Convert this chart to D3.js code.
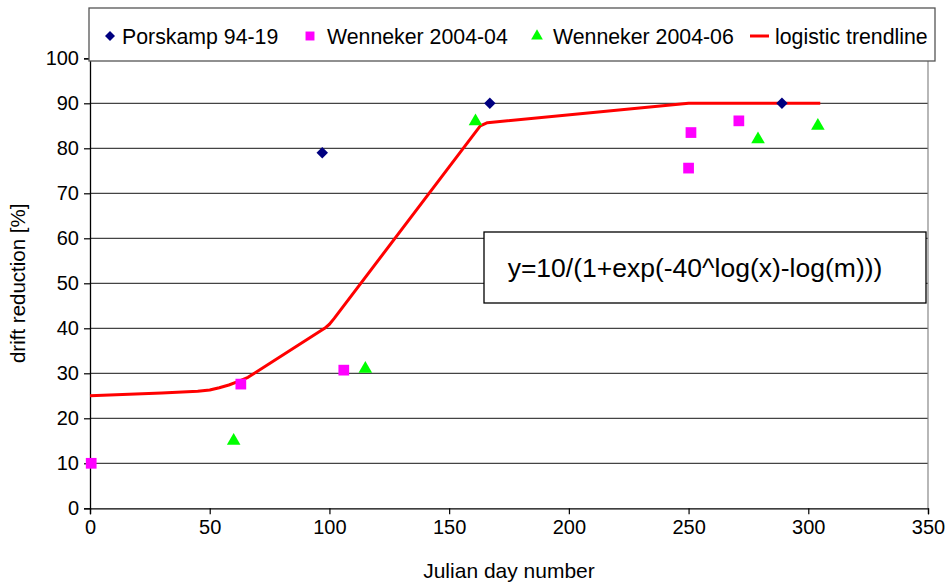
<!DOCTYPE html>
<html><head><meta charset="utf-8">
<script src="https://cdn.jsdelivr.net/npm/d3@7"></script>
<style>body{margin:0;background:#fff}text{font-family:"Liberation Sans",Arial,sans-serif;fill:#000}</style>
</head><body><svg id="c" width="948" height="582"></svg>
<script>
const xTicks = [0,50,100,150,200,250,300,350];
const yTicks = [0,10,20,30,40,50,60,70,80,90,100];
const porskampX = [97,167,289];
const porskampY = [79,90,90];
const wenn04X = [0.5,63,106,250,251,271];
const wenn04Y = [10,27.6,30.7,75.6,83.5,86.1];
const wenn06X = [60,115,161,279,304];
const wenn06Y = [15,31,86,82,85];
const trendX = [0,30,45,50,54,58,62,66,98,100,102,163,166,250,305];
const trendY = [25,25.6,26,26.3,26.8,27.4,28.2,29.1,40,40.9,42.2,85,85.7,90,90];
const legendLabels = ["Porskamp 94-19","Wenneker 2004-04","Wenneker 2004-06","logistic trendline"];
const equation = "y=10/(1+exp(-40^log(x)-log(m)))";

const svg = d3.select("#c");
const L=90, R=928, T=58.3, B=508.3;
const x = d3.scaleLinear().domain([0,350]).range([L,R]);
const y = d3.scaleLinear().domain([0,100]).range([B,T]);

// gridlines
svg.append("g").selectAll("line").data(yTicks.filter(d=>d>0)).join("line")
  .attr("x1",L).attr("x2",R).attr("y1",d=>y(d)).attr("y2",d=>y(d))
  .attr("stroke","#444").attr("stroke-width",1.2);
// right border
svg.append("line").attr("x1",R).attr("x2",R).attr("y1",T).attr("y2",B).attr("stroke","#888").attr("stroke-width",1.2);

// axes
const xAxis = d3.axisBottom(x).tickValues(xTicks).tickSize(6).tickPadding(6).tickFormat(d3.format("d"));
const gx = svg.append("g").attr("transform",`translate(0,${B})`).call(xAxis);
const yAxis = d3.axisLeft(y).tickValues(yTicks).tickSize(6).tickPadding(5).tickFormat(d3.format("d"));
const gy = svg.append("g").attr("transform",`translate(${L},0)`).call(yAxis);
[gx,gy].forEach(g=>{
  g.select(".domain").attr("stroke","#000").attr("stroke-width",1.3);
  g.selectAll(".tick line").attr("stroke","#000").attr("stroke-width",1.2);
  g.selectAll(".tick text").attr("font-size",20).attr("font-family","Liberation Sans, Arial, sans-serif").attr("fill","#000");
});

// axis titles
svg.append("text").attr("x",(L+R)/2).attr("y",578).attr("text-anchor","middle").attr("font-size",21).text("Julian day number");
svg.append("text").attr("transform",`translate(25,${(T+B)/2}) rotate(-90)`).attr("text-anchor","middle").attr("font-size",20.5).text("drift reduction [%]");

// trendline
const trend = trendX.map((d,i)=>[d,trendY[i]]);
svg.append("path").datum(trend)
  .attr("d",d3.line().x(d=>x(d[0])).y(d=>y(d[1])))
  .attr("fill","none").attr("stroke","#ff0000").attr("stroke-width",3).attr("stroke-linejoin","round");

// markers
const diamond = d3.symbol().type(d3.symbolSquare).size(66);
const square = d3.symbol().type(d3.symbolSquare).size(115);
const tri = d3.symbol().type(d3.symbolTriangle).size(80);
function markers(xs,ys,sym,color,rot){
  svg.append("g").selectAll("path").data(xs.map((d,i)=>[d,ys[i]])).join("path")
    .attr("d",sym).attr("fill",color)
    .attr("transform",d=>`translate(${x(d[0])},${y(d[1])}) rotate(${rot})`);
}
markers(porskampX,porskampY,diamond,"#000080",45);
markers(wenn04X,wenn04Y,square,"#ff00ff",0);
markers(wenn06X,wenn06Y,tri,"#00ff00",0);

// equation box
svg.append("rect").attr("x",484).attr("y",232).attr("width",442).attr("height",71)
  .attr("fill","#fff").attr("stroke","#000").attr("stroke-width",1.3);
svg.append("text").attr("x",695).attr("y",277).attr("text-anchor","middle").attr("font-size",26.5).text(equation);

// legend
svg.append("rect").attr("x",89).attr("y",8).attr("width",846).attr("height",53)
  .attr("fill","#fff").attr("stroke","#555").attr("stroke-width",1.3);
const ly = 36;
const lg = svg.append("g");
lg.append("path").attr("d",d3.symbol().type(d3.symbolSquare).size(50)).attr("fill","#000080").attr("transform",`translate(110,${ly}) rotate(45)`);
lg.append("text").attr("x",122).attr("y",ly+7.5).attr("font-size",21.3).text(legendLabels[0]);
lg.append("path").attr("d",d3.symbol().type(d3.symbolSquare).size(80)).attr("fill","#ff00ff").attr("transform",`translate(310,${ly})`);
lg.append("text").attr("x",327).attr("y",ly+7.5).attr("font-size",21.3).text(legendLabels[1]);
lg.append("path").attr("d",d3.symbol().type(d3.symbolTriangle).size(60)).attr("fill","#00ff00").attr("transform",`translate(537,${ly})`);
lg.append("text").attr("x",553).attr("y",ly+7.5).attr("font-size",21.3).text(legendLabels[2]);
lg.append("line").attr("x1",750).attr("x2",769).attr("y1",ly).attr("y2",ly).attr("stroke","#ff0000").attr("stroke-width",3);
lg.append("text").attr("x",775).attr("y",ly+7.5).attr("font-size",21.3).text(legendLabels[3]);
</script></body></html>
